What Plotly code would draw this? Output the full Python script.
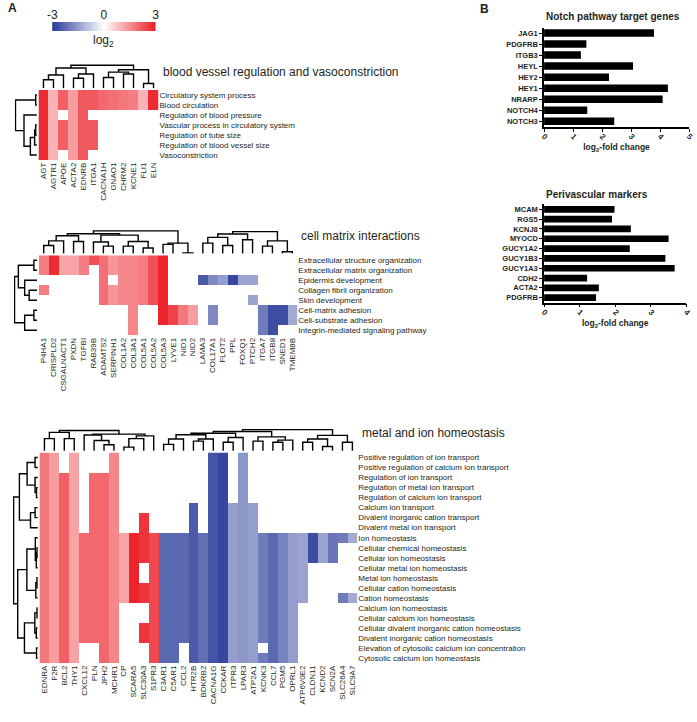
import numpy as np
import plotly.graph_objects as go

W, H = 697, 722
FONT = "Liberation Sans"
TXT = "#231f20"

# ---------------- data ----------------
top_title = "blood vessel regulation and vasoconstriction"
top_rows = ["Circulatory system process", "Blood circulation", "Regulation of blood pressure",
            "Vascular process in circulatory system", "Regulation of tube size",
            "Regulation of blood vessel size", "Vasoconstriction"]
top_genes = ["AGT", "AGTR1", "APOE", "ACTA2", "EDNRB", "ITGA1", "CACNA1H", "GNAO1",
             "CHRM2", "KCNE1", "FLI1", "ELN"]
top_lfc = [2.8, 1.0, 2.1, 1.3, 2.2, 2.2, 2.0, 1.9, 1.8, 1.7, 1.0, 2.8]
top_hits = [[(0, 6)], [(0, 6)], [(0, 1), (3, 5)], [(0, 6)], [(0, 6)], [(0, 1), (3, 5)],
            [(0, 1)], [(0, 1)], [(0, 1)], [(0, 1)], [(0, 1)], [(0, 1)]]
top_col_left = (((0, 1, .36), 2, .56), ((3, 4, .42), 5, .6), .85)
top_col_right = (((6, 7, .45), (8, 9, .6), .68), (10, 11, .2), .78)
top_col_tree = [(top_col_left, top_col_right, .97)]
top_row_tree = ((0, 1, .05), (2, (((3, 4, .05), 5, .1), 6, .3), .6), 1.0)

mid_title = "cell matrix interactions"
mid_rows = ["Extracellular structure organization", "Extracellular matrix organization",
            "Epidermis development", "Collagen fibril organization", "Skin development",
            "Cell-matrix adhesion", "Cell-substrate adhesion", "Integrin-mediated signaling pathway"]
mid_genes = ["P4HA1", "CRISPLD2", "CSGALNACT1", "PXDN", "TGFBI", "RAB39B", "ADAMTS2",
             "SERPINH1", "COL1A2", "COL3A1", "COL5A1", "COL5A2", "COL5A3", "LYVE1", "NID1",
             "NID2", "LAMA3", "COL17A1", "FLOT2", "PPL", "FOXQ1", "PTCH2", "ITGA7", "ITGB8",
             "SNED1", "TMEM8B"]
mid_lfc = [1.7, 2.8, 1.2, 1.2, 1.7, 2.3, 1.9, 1.4, 1.6, 1.6, 1.7, 2.3, 2.9, 2.5, 1.8, 1.3,
           -2.5, -1.8, -1.5, -2.8, -1.4, -1.4, -2.0, -2.7, -2.7, -1.3]
mid_hits = [[(0, 1), (3, 3)], [(0, 1)], [(0, 1)], [(0, 1)], [(0, 1)], [(0, 0)], [(0, 4)],
            [(0, 1), (3, 4)], [(0, 4)], [(0, 7)], [(0, 4)], [(0, 4)], [(0, 6)], [(5, 6)],
            [(5, 6)], [(5, 6)], [(2, 2)], [(2, 2), (5, 6)], [(2, 2)], [(2, 2)], [(2, 2)],
            [(2, 2), (4, 4)], [(5, 7)], [(5, 7)], [(5, 6)], [(5, 6)]]
mid_red_a = (((0, 1, .35), 2, .55), (3, 4, .52), .77)
mid_red_b = ((5, (6, 7, .32), .5), ((8, 9, .32), (10, 11, .24), .52), .8)
mid_red_c = ((12, 13, .4), (14, 15, .03), .45)
mid_blue_a = (((16, 17, .45), (18, 19, .35), .7), (20, 21, .6), .85)
mid_blue_b = ((22, 23, .32), (24, 25, .08), .55)
mid_col_tree = [((mid_red_a, mid_red_b, .86), mid_red_c, .98), (mid_blue_a, mid_blue_b, .95)]
mid_row_tree = (((0, 1, .14), (2, (3, 4, .35), .55), .83), ((5, 6, .14), 7, .55), 1.0)

bot_title = "metal and ion homeostasis"
bot_rows = ["Positive regulation of ion transport", "Positive regulation of calcium ion transport",
            "Regulation of ion transport", "Regulation of metal ion transport",
            "Regulation of calcium ion transport", "Calcium ion transport",
            "Divalent inorganic cation transport", "Divalent metal ion transport",
            "Ion homeostasis", "Cellular chemical homeostasis", "Cellular ion homeostasis",
            "Cellular metal ion homeostasis", "Metal ion homeostasis",
            "Cellular cation homeostasis", "Cation homeostasis", "Calcium ion homeostasis",
            "Cellular calcium ion homeostasis", "Cellular divalent inorganic cation homeostasis",
            "Divalent inorganic cation homeostasis",
            "Elevation of cytosolic calcium ion concentration", "Cytosolic calcium ion homeostasis"]
bot_genes = ["EDNRA", "F2R", "BCL2", "THY1", "CXCL12", "PLN", "JPH2", "MCHR1", "CP", "SCARA5",
             "SLC30A3", "S1PR3", "C3AR1", "C5AR1", "CCL2", "HTR2B", "BDKRB2", "CACNA1G",
             "CCKAR", "ITPR3", "LPAR3", "ATP2A1", "KCNK3", "CCL7", "PGM5", "OPRL1",
             "ATP6V0E2", "CLDN11", "KCND2", "SCN2A", "SLC26A4", "SLC9A7"]
bot_lfc = [1.8, 1.3, 2.1, 1.2, 2.0, 2.0, 2.0, 1.6, 1.2, 2.9, 2.7, 2.4,
           -2.3, -2.3, -2.3, -2.5, -2.2, -2.6, -2.8, -1.5, -1.6, -1.5, -2.0, -2.3, -1.9,
           -1.5, -1.4, -2.7, -1.4, -2.1, -2.0, -1.3]
bot_hits = [[(0, 20)], [(0, 20)], [(2, 20)], [(0, 20)], [(8, 18)], [(2, 18)], [(2, 20)],
            [(0, 20)], [(8, 14)], [(8, 14)], [(6, 10), (13, 14), (17, 18)], [(8, 20)],
            [(8, 20)], [(8, 20)], [(8, 18)], [(5, 20)], [(8, 20)], [(0, 20)], [(0, 20)],
            [(5, 20)], [(0, 20)], [(5, 20)], [(8, 18), (20, 20)], [(8, 20)], [(8, 20)],
            [(8, 20)], [(8, 14)], [(8, 10)], [(8, 10)], [(8, 10)], [(8, 8), (14, 14)],
            [(8, 8), (14, 14)]]
bot_red_l = ((0, 1, .57), (2, 3, .57), .86)
bot_red_m = (4, (5, (6, 7, .28), .48), .74)
bot_red_r = (((8, 9, .17), 10, .57), 11, .7)
bot_blue_1 = (((12, 13, .3), 14, .55), ((15, 16, .45), 17, .55), .75)
bot_blue_2 = ((18, 19, .4), 20, .62)
bot_blue_3 = ((21, 22, .45), ((23, 24, .4), 25, .5), .65)
bot_blue_4 = (((26, 27, .4), (28, 29, .2), .55), (30, 31, .4), .72)
bot_col_tree = [(bot_red_l, (bot_red_m, bot_red_r, .78), .95),
                (((bot_blue_1, bot_blue_2, .82), bot_blue_3, .9), bot_blue_4, 1.0)]
bot_row_a = (((0, 1, .11), (2, (3, 4, .05), .11), .44), ((5, 6, .11), 7, .3), .76)
bot_row_b = (((8, ((9, 10, .03), 11, .06), .1), ((12, 13, .03), 14, .08), .45),
             (((15, 16, .03), (17, 18, .06), .12), (19, 20, .05), .55), .83)
bot_row_tree = (bot_row_a, bot_row_b, 1.0)

notch_genes = ["JAG1", "PDGFRB", "ITGB3", "HEYL", "HEY2", "HEY1", "NRARP", "NOTCH4", "NOTCH3"]
notch_lfc = [3.79, 1.46, 1.27, 3.07, 2.24, 4.27, 4.09, 1.49, 2.42]
peri_genes = ["MCAM", "RGS5", "KCNJ8", "MYOCD", "GUCY1A2", "GUCY1B3", "GUCY1A3", "CDH2",
              "ACTA2", "PDGFRB"]
peri_lfc = [1.98, 1.91, 2.44, 3.50, 2.41, 3.41, 3.67, 1.21, 1.54, 1.46]

scale_ticks = [-3, 0, 3]

# ---------------- helpers ----------------
COLORSCALE = [[0.0, "rgb(40,58,152)"], [0.5, "rgb(255,255,255)"], [1.0, "rgb(236,28,36)"]]


def px(x):
    return x / W


def py(y):
    return 1 - y / H


layout = {}
counter = {"x": 0, "y": 0}


def new_axis(kind):
    counter[kind] += 1
    n = counter[kind]
    key = f"{kind}axis" if n == 1 else f"{kind}axis{n}"
    ref = kind if n == 1 else f"{kind}{n}"
    return ref, key


def build_matrix(lfc, hits, nrows):
    z = np.full((nrows, len(lfc)), np.nan)
    for j, (v, spans) in enumerate(zip(lfc, hits)):
        for a, b in spans:
            z[a:b + 1, j] = v
    return z


def dendro_xy(node):
    if isinstance(node, int):
        return float(node), 0.0, [], []
    a, b, h = node
    pa, ha, xa, ya = dendro_xy(a)
    pb, hb, xb, yb = dendro_xy(b)
    xs = xa + xb + [pa, pa, pb, pb, None]
    ys = ya + yb + [ha, h, h, hb, None]
    return (pa + pb) / 2, h, xs, ys


fig = go.Figure()
tickfont = dict(size=8, family=FONT, color=TXT)
annotations = []


def heat_panel(genes, rows, lfc, hits, box, col_trees, cd_top, row_tree, rd_left, title, title_xy):
    x0, y0, x1, y1 = box
    n, m = len(genes), len(rows)
    xa, xak = new_axis("x")
    ya, yak = new_axis("y")
    layout[xak] = dict(
        domain=[px(x0), px(x1)], range=[-0.5, n - 0.5], anchor=ya, tickvals=list(range(n)),
        ticktext=genes, tickangle=-90, tickfont=tickfont, showgrid=False, zeroline=False,
        showline=False, ticks="", fixedrange=True)
    layout[yak] = dict(
        domain=[py(y1), py(y0)], range=[m - 0.5, -0.5], anchor=xa, side="right",
        tickvals=list(range(m)), ticktext=rows, tickfont=tickfont, showgrid=False,
        zeroline=False, showline=False, ticks="", fixedrange=True)
    z = build_matrix(lfc, hits, m)
    fig.add_trace(go.Heatmap(x=list(range(n)), y=list(range(m)), z=z, colorscale=COLORSCALE,
                             zmin=-3, zmax=3, showscale=False, xaxis=xa, yaxis=ya,
                             hoverongaps=False))
    yd, ydk = new_axis("y")
    layout[ydk] = dict(domain=[py(y0 - 1.5), py(cd_top)], range=[-0.01, 1.02],
                       anchor=xa, visible=False, fixedrange=True)
    for tree in col_trees:
        _, _, xs, ys = dendro_xy(tree)
        fig.add_trace(go.Scatter(x=xs, y=ys, mode="lines", line=dict(color="black", width=1.4),
                                 xaxis=xa, yaxis=yd, hoverinfo="skip", showlegend=False))
    xd, xdk = new_axis("x")
    layout[xdk] = dict(domain=[px(rd_left), px(x0 - 1.5)], range=[1.03, -0.01],
                       anchor=ya, visible=False, fixedrange=True)
    _, _, xs, ys = dendro_xy(row_tree)
    fig.add_trace(go.Scatter(x=ys, y=xs, mode="lines", line=dict(color="black", width=1.4),
                             xaxis=xd, yaxis=ya, hoverinfo="skip", showlegend=False))
    annotations.append(dict(x=px(title_xy[0]), y=py(title_xy[1]), xref="paper", yref="paper",
                            text=title, showarrow=False, xanchor="left", yanchor="middle",
                            font=dict(size=12, family=FONT, color=TXT)))


heat_panel(top_genes, top_rows, top_lfc, top_hits, (34, 90, 156, 160), top_col_tree, 64,
           top_row_tree, 10, top_title, (159, 72))
heat_panel(mid_genes, mid_rows, mid_lfc, mid_hits, (34.3, 255.3, 297, 335.3), mid_col_tree, 230,
           mid_row_tree, 9, mid_title, (299, 236))
heat_panel(bot_genes, bot_rows, bot_lfc, bot_hits, (35, 452.5, 358, 663), bot_col_tree, 429,
           bot_row_tree, 8, bot_title, (361, 433))

# ---- colour scale bar ----
xc, xck = new_axis("x")
yc, yck = new_axis("y")
layout[xck] = dict(domain=[px(48), px(153)], range=[-3, 3], anchor=yc, side="top",
                   tickvals=scale_ticks, ticktext=[str(t) for t in scale_ticks],
                   tickfont=dict(size=12, family=FONT, color=TXT), ticks="", showgrid=False,
                   zeroline=False, showline=False, fixedrange=True)
layout[yck] = dict(domain=[py(31), py(22)], range=[-0.5, 0.5], anchor=xc, visible=False,
                   fixedrange=True)
grad = np.linspace(scale_ticks[0], scale_ticks[-1], 121)
fig.add_trace(go.Heatmap(x=grad, y=[0], z=[grad], colorscale=COLORSCALE, zmin=-3, zmax=3,
                         showscale=False, xaxis=xc, yaxis=yc, hoverinfo="skip"))
annotations.append(dict(x=px(100), y=py(41), xref="paper", yref="paper", text="log<sub>2</sub>",
                        showarrow=False, xanchor="center", yanchor="middle",
                        font=dict(size=12, family=FONT, color=TXT)))


# ---- bar charts ----
def bar_panel(genes, vals, xmax, box, title, title_y):
    x0, y0, x1, y1 = box
    xa, xak = new_axis("x")
    ya, yak = new_axis("y")
    layout[xak] = dict(
        domain=[px(x0), px(x1)], range=[0, xmax], anchor=ya, tickmode="array",
        tickvals=list(range(xmax + 1)), ticktext=[str(v) for v in range(xmax + 1)],
        tickangle=45, ticks="outside", ticklen=3, tickwidth=1, tickcolor="black",
        ticklabelstandoff=-3,
        showline=True, linecolor="black", linewidth=1.5, showgrid=False, zeroline=False,
        tickfont=dict(size=8, family=FONT, color=TXT, weight="bold"),
        title=dict(text="log<sub>2</sub>-fold change", standoff=0,
                   font=dict(size=8.5, family=FONT, color=TXT, weight="bold")),
        fixedrange=True)
    layout[yak] = dict(
        domain=[py(y1), py(y0)], anchor=xa, autorange="reversed", type="category",
        tickmode="array", tickvals=genes, ticktext=genes,
        ticks="outside", ticklen=3, tickwidth=1, tickcolor="black", showline=True,
        linecolor="black", linewidth=1.5, showgrid=False, zeroline=False,
        tickfont=dict(size=7.5, family=FONT, color=TXT, weight="bold"), fixedrange=True)
    fig.add_trace(go.Bar(x=vals, y=genes, orientation="h", marker=dict(color="black", line_width=0),
                         width=0.68, xaxis=xa, yaxis=ya, hoverinfo="skip", showlegend=False))
    annotations.append(dict(x=px(x0), y=py(title_y), xref="paper", yref="paper", text=title,
                            showarrow=False, xanchor="left", yanchor="middle",
                            font=dict(size=10, family=FONT, color=TXT, weight="bold")))


bar_panel(notch_genes, notch_lfc, 5, (547.7, 27.5, 695, 126.8), "Notch pathway target genes", 17)
bar_panel(peri_genes, peri_lfc, 4, (547.7, 204.4, 692.3, 302.6), "Perivascular markers", 194)

annotations.append(dict(x=px(1), y=py(8), xref="paper", yref="paper", text="A", showarrow=False,
                        xanchor="left", yanchor="middle",
                        font=dict(size=12, family=FONT, color=TXT, weight="bold")))
annotations.append(dict(x=px(481), y=py(9), xref="paper", yref="paper", text="B", showarrow=False,
                        xanchor="left", yanchor="middle",
                        font=dict(size=12, family=FONT, color=TXT, weight="bold")))

fig.update_layout(width=W, height=H, margin=dict(l=0, r=0, t=0, b=0), paper_bgcolor="white",
                  plot_bgcolor="rgba(0,0,0,0)", showlegend=False, annotations=annotations,
                  font=dict(family=FONT, color=TXT), **layout)
fig.write_html("out.html", config={"displayModeBar": False},
               post_script="document.body.style.margin='0';document.body.style.overflow='hidden';")
